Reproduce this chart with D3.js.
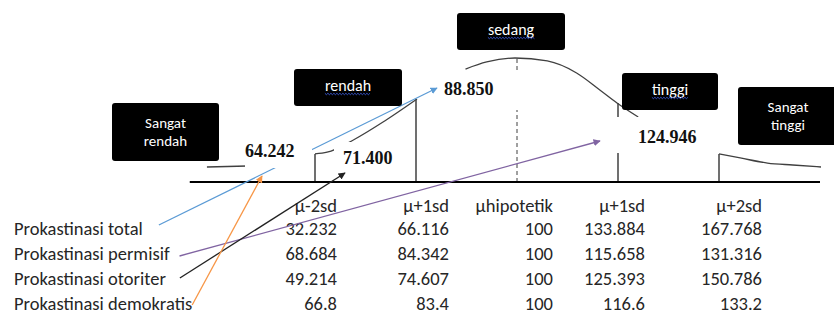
<!DOCTYPE html>
<html>
<head>
<meta charset="utf-8">
<script src="https://cdn.jsdelivr.net/npm/d3@7"></script>
<style>
  body { margin: 0; background: #fff; }
  svg { display: block; }
  .tbl { font-family: Carlito, Calibri, Lato, sans-serif; font-size: 18.5px; fill: #262626; }
  .cat { font-family: Carlito, Calibri, Lato, sans-serif; font-size: 16px; fill: #fff; }
  .cat2 { font-size: 15px; }
  .val { font-family: "Liberation Serif", "Times New Roman", serif; font-weight: bold; font-size: 18px; fill: #111; }
</style>
</head>
<body>
<div id="chart"></div>
<script>
// DATA
// x is in sd units around the hypothetical mean, y is relative height of the curve
var cuts = [-2, -1, 0, 1, 2];
var cutHeights = [0.226, 0.669, 1.0, 0.637, 0.226];
var axisExtent = [-3.24, 3.0];

var tailLeft  = [[-3.07, 0.121], [-2.87, 0.125], [-2.67, 0.129]];
var lowLeft   = [[-2.0, 0.226], [-1.88, 0.24], [-1.62, 0.339], [-1.31, 0.492], [-0.99, 0.669]];
var middle    = [[-0.51, 0.911], [-0.30, 0.968], [-0.02, 1.0], [0.30, 0.976], [0.59, 0.879], [0.82, 0.742], [0.99, 0.637], [1.20, 0.524]];
var tailRight = [[2.0, 0.226], [2.21, 0.194], [2.48, 0.153], [2.73, 0.137], [3.01, 0.121]];

var categories = ["Sangat rendah", "rendah", "sedang", "tinggi", "Sangat tinggi"];
var valueLabels = [64.242, 71.400, 88.850, 124.946];

var columns = ["\u03bc-2sd", "\u03bc+1sd", "\u03bchipotetik", "\u03bc+1sd", "\u03bc+2sd"];
var groups = ["Prokastinasi total", "Prokastinasi permisif", "Prokastinasi otoriter", "Prokastinasi demokratis"];
var total      = [32.232, 66.116, 100, 133.884, 167.768];
var permisif   = [68.684, 84.342, 100, 115.658, 131.316];
var otoriter   = [49.214, 74.607, 100, 125.393, 150.786];
var demokratis = [66.8, 83.4, 100, 116.6, 133.2];
// which value label each group points at
var groupValue = [88.850, 124.946, 71.400, 64.242];
var groupColor = ["#5b9bd5", "#8064a2", "#222222", "#f79646"];

// SET UP
var w = 834, h = 318;
var svg = d3.select("#chart").append("svg")
  .attr("width", w).attr("height", h);

var x = d3.scaleLinear().domain([-2, 2]).range([315, 719]);
var y = d3.scaleLinear().domain([0, 1]).range([182, 58]);

var line = d3.line()
  .x(function(d) { return x(d[0]); })
  .y(function(d) { return y(d[1]); })
  .curve(d3.curveMonotoneX);

// arrow markers
var defs = svg.append("defs");
groupColor.forEach(function(c, i) {
  defs.append("marker")
    .attr("id", "arr" + i)
    .attr("viewBox", "0 0 10 10")
    .attr("refX", 9).attr("refY", 5)
    .attr("markerWidth", 5.5).attr("markerHeight", 5.5)
    .attr("markerUnits", "strokeWidth")
    .attr("orient", "auto")
    .append("path")
    .attr("d", "M0,0 L10,5 L0,10 z")
    .attr("fill", c);
});

// CURVE PIECES
[tailLeft, lowLeft, middle, tailRight].forEach(function(seg) {
  svg.append("path")
    .datum(seg)
    .attr("d", line)
    .attr("fill", "none")
    .attr("stroke", "#404040")
    .attr("stroke-width", 1.3);
});

// cut lines
svg.selectAll(".cut")
  .data(cuts)
  .enter().append("line")
  .attr("class", "cut")
  .attr("x1", function(d) { return x(d); })
  .attr("x2", function(d) { return x(d); })
  .attr("y1", y(0))
  .attr("y2", function(d, i) { return y(cutHeights[i]); })
  .attr("stroke", "#404040")
  .attr("stroke-width", function(d) { return d === 0 ? 1 : 1.5; })
  .attr("stroke-dasharray", function(d) { return d === 0 ? "4,3" : null; });

// baseline
svg.append("line")
  .attr("x1", x(axisExtent[0])).attr("x2", x(axisExtent[1]))
  .attr("y1", y(0)).attr("y2", y(0))
  .attr("stroke", "#000").attr("stroke-width", 2);

// TABLE
var colRight = [337, 449, 553, 645, 762];
var headerY = 212;
var rowY = d3.scalePoint().domain(groups).range([235, 310]);
var rows = [total, permisif, otoriter, demokratis];

svg.selectAll(".colhead")
  .data(columns)
  .enter().append("text")
  .attr("class", "tbl")
  .attr("x", function(d, i) { return colRight[i]; })
  .attr("y", headerY)
  .attr("text-anchor", "end")
  .text(function(d) { return d; });

var rowLabels = svg.selectAll(".rowlab")
  .data(groups)
  .enter().append("text")
  .attr("class", "tbl")
  .attr("x", 14)
  .attr("y", function(d) { return rowY(d); })
  .text(function(d) { return d; });

rows.forEach(function(r, ri) {
  svg.selectAll(".cell" + ri)
    .data(r)
    .enter().append("text")
    .attr("class", "tbl")
    .attr("x", function(d, i) { return colRight[i]; })
    .attr("y", rowY(groups[ri]))
    .attr("text-anchor", "end")
    .text(function(d) { return String(d); });
});

// VALUE LABELS (left x, baseline y)
var valPos = {
  64.242: [245, 157],
  71.4: [343, 164],
  88.85: [444, 95],
  124.946: [638, 143]
};
// white patches behind the labels that hide the lines under them
var valPatch = {
  64.242: [245, 140, 67, 28],
  71.4: [334, 142, 64, 28],
  88.85: [440, 70, 82, 40],
  124.946: [616, 117, 84, 36]
};
var fmt = d3.format(".3f");

// ARROWS from the table rows to the labels
var startOff = [[16, -10], [10, -4], [14, -7], [0, -5]];
var tipOff = {
  88.85: [-7, -7],
  124.946: [-38, -2],
  71.4: [2, 9],
  64.242: [17, 19]
};
rowLabels.each(function(d, i) {
  var len = this.getComputedTextLength();
  var v = groupValue[i];
  var p = valPos[v];
  svg.append("line")
    .attr("x1", 14 + len + startOff[i][0])
    .attr("y1", rowY(d) + startOff[i][1])
    .attr("x2", p[0] + tipOff[v][0])
    .attr("y2", p[1] + tipOff[v][1])
    .attr("stroke", groupColor[i])
    .attr("stroke-width", 1.3)
    .attr("marker-end", "url(#arr" + i + ")");
});

valueLabels.forEach(function(v) {
  var b = valPatch[v];
  svg.append("rect")
    .attr("x", b[0]).attr("y", b[1]).attr("width", b[2]).attr("height", b[3])
    .attr("fill", "#fff");
});
valueLabels.forEach(function(v) {
  svg.append("text")
    .attr("class", "val")
    .attr("x", valPos[v][0])
    .attr("y", valPos[v][1])
    .text(fmt(v));
});

// CATEGORY BOXES
var catBox = [
  [112, 103, 107, 58],
  [294, 69, 108, 37],
  [457, 13, 108, 37],
  [622, 73, 96, 37],
  [738, 87, 100, 58]
];
categories.forEach(function(c, i) {
  var b = catBox[i];
  svg.append("rect")
    .attr("x", b[0]).attr("y", b[1]).attr("width", b[2]).attr("height", b[3])
    .attr("rx", 3).attr("fill", "#000");
  var words = c.split(" ");
  var cx = b[0] + b[2] / 2;
  var lh = 18;
  var y0 = b[1] + b[3] / 2 - (words.length - 1) * lh / 2 + (words.length === 1 ? 3 : 4.5);
  var t = svg.append("text")
    .attr("class", words.length > 1 ? "cat cat2" : "cat")
    .attr("text-anchor", "middle");
  words.forEach(function(wd, k) {
    t.append("tspan")
      .attr("x", cx)
      .attr("y", y0 + k * lh)
      .text(wd);
  });
  if (words.length === 1) {
    // spell-check squiggle
    var bb = t.node().getBBox();
    var pts = [];
    for (var xx = bb.x, k2 = 0; xx <= bb.x + bb.width; xx += 1.5, k2++) {
      pts.push([xx, y0 + 3 + (k2 % 2 ? 1.2 : -0.2)]);
    }
    svg.append("path")
      .attr("d", d3.line()(pts))
      .attr("fill", "none")
      .attr("stroke", "#3b5bdb")
      .attr("stroke-width", 0.9);
  }
});
</script>
</body>
</html>
